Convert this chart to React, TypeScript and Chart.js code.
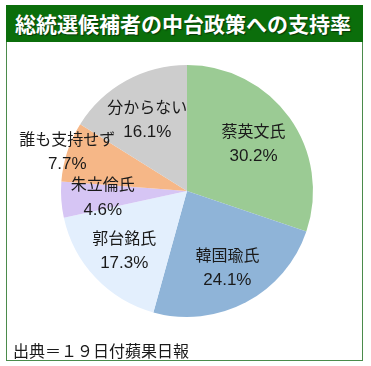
import React, { useEffect, useRef } from "react";
import { Chart, registerables } from "chart.js";

Chart.register(...registerables);

const titleText = "総統選候補者の中台政策への支持率";
const sourceText = "出典＝１９日付蘋果日報";
const categories = ["蔡英文氏", "韓国瑜氏", "郭台銘氏", "朱立倫氏", "誰も支持せず", "分からない"];
const values = [30.2, 24.1, 17.3, 4.6, 7.7, 16.1];
const colors = ["#9bcb94", "#8fb4d8", "#e3effd", "#d6c5f4", "#f6b787", "#cdcdcd"];
const labelRadii = [0.65, 0.685, 0.685, 0.67, 1.0, 0.65];

const FONT = '"Noto Sans CJK JP", "Noto Sans", sans-serif';
const NUM_FONT = '"Liberation Sans", "DejaVu Sans", sans-serif';

const labelPlugin = {
  id: "sliceLabels",
  afterDatasetsDraw(chart: any) {
    const ctx = chart.ctx;
    const meta = chart.getDatasetMeta(0);
    ctx.save();
    ctx.fillStyle = "#1a1a1a";
    ctx.textAlign = "center";
    ctx.textBaseline = "middle";
    meta.data.forEach((arc: any, i: number) => {
      const { x, y, startAngle, endAngle, outerRadius } = arc.getProps(
        ["x", "y", "startAngle", "endAngle", "outerRadius"],
        true
      );
      const mid = (startAngle + endAngle) / 2;
      const r = outerRadius * labelRadii[i];
      const cx = x + Math.cos(mid) * r;
      const cy = y + Math.sin(mid) * r;
      ctx.font = `16px ${FONT}`;
      ctx.fillText(categories[i], cx, cy - 12.5);
      ctx.font = `17px ${NUM_FONT}`;
      ctx.fillText(values[i].toFixed(1) + "%", cx, cy + 13);
    });
    ctx.restore();
  },
};

export default function App() {
  const ref = useRef<HTMLCanvasElement>(null);
  useEffect(() => {
    const chart = new Chart(ref.current as HTMLCanvasElement, {
      type: "pie",
      data: {
        labels: categories,
        datasets: [
          {
            data: values,
            backgroundColor: colors,
            borderWidth: 0,
          },
        ],
      },
      options: {
        animation: false,
        responsive: false,
        layout: { padding: { left: 61, right: 58, top: 65, bottom: 49 } },
        plugins: {
          legend: { display: false },
          tooltip: { enabled: false },
        },
      },
      plugins: [labelPlugin],
    });
    return () => chart.destroy();
  }, []);

  return (
    <div style={{ position: "absolute", left: 0, top: 0, width: 371, height: 366, background: "#fff" }}>
      <div
        style={{
          position: "absolute",
          left: 6,
          top: 5,
          width: 355,
          height: 354,
          border: "1px solid #4b8b4b",
        }}
      />
      <div
        style={{
          position: "absolute",
          left: 6,
          top: 5,
          width: 357,
          height: 37,
          background: "#0b6e0b",
          color: "#fff",
          fontFamily: FONT,
          fontWeight: 700,
          fontSize: 21,
          lineHeight: "37px",
          paddingLeft: 9,
          boxSizing: "border-box",
          whiteSpace: "nowrap",
          textShadow: "1px 1px 1px rgba(0,0,0,0.5)",
        }}
      >
        {titleText}
      </div>
      <canvas
        ref={ref}
        width={371}
        height={366}
        style={{ position: "absolute", left: 0, top: 0, width: 371, height: 366 }}
      />
      <div
        style={{
          position: "absolute",
          left: 13,
          top: 339,
          fontFamily: FONT,
          fontSize: 16,
          lineHeight: "22px",
          color: "#1a1a1a",
          whiteSpace: "nowrap",
        }}
      >
        {sourceText}
      </div>
    </div>
  );
}
